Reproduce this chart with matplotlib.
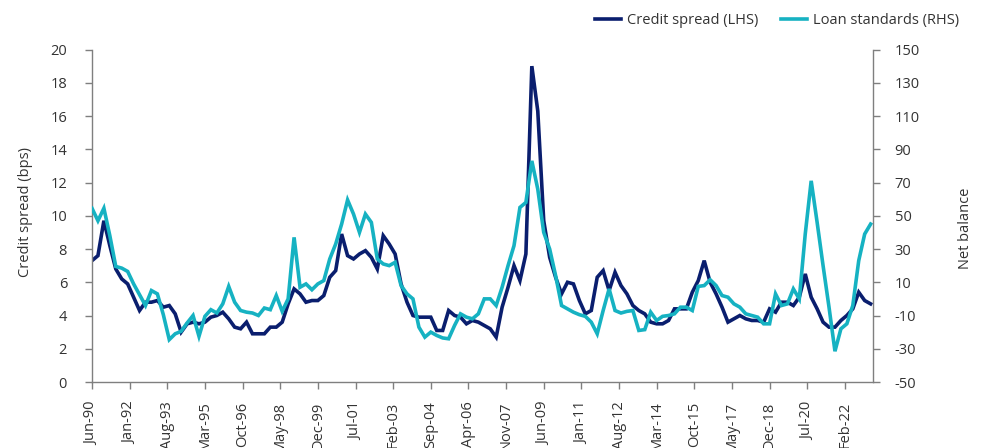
import matplotlib
matplotlib.use("Agg")
import matplotlib.pyplot as plt
import numpy as np

plt.rcParams['font.family'] = ['Open Sans', 'DejaVu Sans']
plt.rcParams['axes.unicode_minus'] = False

# Quarterly observations, Jun-90 .. Mar-23
credit_spread = [
    7.3, 7.6, 9.7, 8.2, 6.8, 6.2, 5.9, 5.1, 4.3, 4.8,
    4.8, 4.9, 4.5, 4.6, 4.1, 3.0, 3.5, 3.6, 3.5, 3.6,
    3.9, 4.0, 4.2, 3.8, 3.3, 3.2, 3.6, 2.9, 2.9, 2.9,
    3.3, 3.3, 3.6, 4.7, 5.6, 5.3, 4.8, 4.9, 4.9, 5.2,
    6.3, 6.7, 8.9, 7.6, 7.4, 7.7, 7.9, 7.5, 6.8, 8.8,
    8.3, 7.7, 5.9, 4.8, 4.0, 3.9, 3.9, 3.9, 3.1, 3.1,
    4.3, 4.0, 3.9, 3.5, 3.7, 3.6, 3.4, 3.2, 2.7, 4.5,
    5.7, 7.0, 6.1, 7.7, 19.0, 16.3, 9.7, 7.5, 6.3, 5.3,
    6.0, 5.9, 4.9, 4.1, 4.3, 6.3, 6.7, 5.5, 6.6, 5.8,
    5.3, 4.6, 4.3, 4.1, 3.6, 3.5, 3.5, 3.7, 4.4, 4.4,
    4.4, 5.4, 6.1, 7.3, 6.0, 5.3, 4.5, 3.6, 3.8, 4.0,
    3.8, 3.7, 3.7, 3.6, 4.4, 4.2, 4.8, 4.8, 4.6, 5.1,
    6.5, 5.1, 4.4, 3.6, 3.3, 3.3, 3.7, 4.0, 4.4, 5.4,
    4.9, 4.7,
]

loan_standards = [
    54.5, 47, 54.5, 38, 19.5, 18.5, 16.5, 9, 2.5, -4,
    5, 3, -9.5, -24.5, -21, -19.5, -14.5, -10, -22.5, -10.5,
    -6.5, -8.5, -3, 7.5, -2, -7, -8, -8.5, -10, -5.5,
    -6.5, 2, -7.5, 0, 37, 7, 9, 5.5, 9, 11,
    24, 33, 45, 59.5, 51, 40, 51, 46, 24, 21,
    20, 22, 8, 3, 0, -17, -23, -20, -22, -23.5,
    -24, -16, -9, -11, -12, -9, 0, 0, -4, 7,
    20, 32, 55, 58, 83, 66, 40, 30, 14, -4,
    -6, -8, -9.5, -10.5, -14, -21, -7, 6, -7, -8.5,
    -7.5, -7, -19, -18.5, -8, -13, -10.5, -10, -9, -5,
    -5, -7, 7.5, 8, 11.5, 8, 2, 1, -3, -5,
    -9, -10, -11, -15, -15, 3, -4, -3, 6, 0,
    39, 71, 46, 20, -5, -31.5, -18, -15, -4, 23,
    39, 45,
]

tick_labels = ["Jun-90", "Jan-92", "Aug-93", "Mar-95", "Oct-96", "May-98",
               "Dec-99", "Jul-01", "Feb-03", "Sep-04", "Apr-06", "Nov-07",
               "Jun-09", "Jan-11", "Aug-12", "Mar-14", "Oct-15", "May-17",
               "Dec-18", "Jul-20", "Feb-22"]

NAVY = "#0A1E6E"
TEAL = "#16B2C2"
TXT = "#333333"
AX = "#7F7F7F"
FS = 10.5

months = np.arange(len(credit_spread)) * 3  # months since Jun-90
tick_pos = np.arange(len(tick_labels)) * 19

fig = plt.figure(figsize=(9.82, 4.48), dpi=100)
ax = fig.add_axes([92/982, 1-382/448, (873-92)/982, (382-49.5)/448])
ax2 = ax.twinx()

l1, = ax.plot(months, credit_spread, color=NAVY, lw=2.6, solid_joinstyle='miter',
              label="Credit spread (LHS)")
l2, = ax2.plot(months, loan_standards, color=TEAL, lw=2.6, solid_joinstyle='miter',
               label="Loan standards (RHS)")

ax.set_xlim(0, 394.2)
ax.set_ylim(0, 20)
ax.set_yticks(np.arange(0, 21, 2))
ax2.set_ylim(-50, 150)
ax2.set_yticks(np.arange(-50, 151, 20))

ax.set_xticks(tick_pos)
ax.set_xticklabels(tick_labels, rotation=90, va='top', ha='center')

for a in (ax, ax2):
    a.spines["top"].set_visible(False)
    for s in ("left", "right", "bottom"):
        a.spines[s].set_color(AX)
        a.spines[s].set_linewidth(1.0)
    a.tick_params(colors=TXT, labelsize=FS, length=5, width=1.0, color=AX)

ax.spines["right"].set_visible(False)
ax2.spines["left"].set_visible(False)
ax2.spines["bottom"].set_visible(False)
ax.tick_params(axis='y', pad=13)
ax.tick_params(axis='x', pad=9)
ax2.tick_params(axis='y', pad=10.5)

ax.set_ylabel("Credit spread (bps)", color=TXT, fontsize=FS)
ax.yaxis.set_label_coords(-0.0755, 0.511)
ax2.set_ylabel("Net balance", color=TXT, fontsize=FS)
ax2.yaxis.set_label_coords(1.109, 0.463)

leg = fig.legend(handles=[l1, l2], loc='upper right', bbox_to_anchor=(0.99, 1.0),
                 ncol=2, frameon=False, fontsize=FS, handlelength=1.8,
                 columnspacing=1.5, handletextpad=0.42, labelcolor=TXT)

fig.savefig("out.png", dpi=100)
